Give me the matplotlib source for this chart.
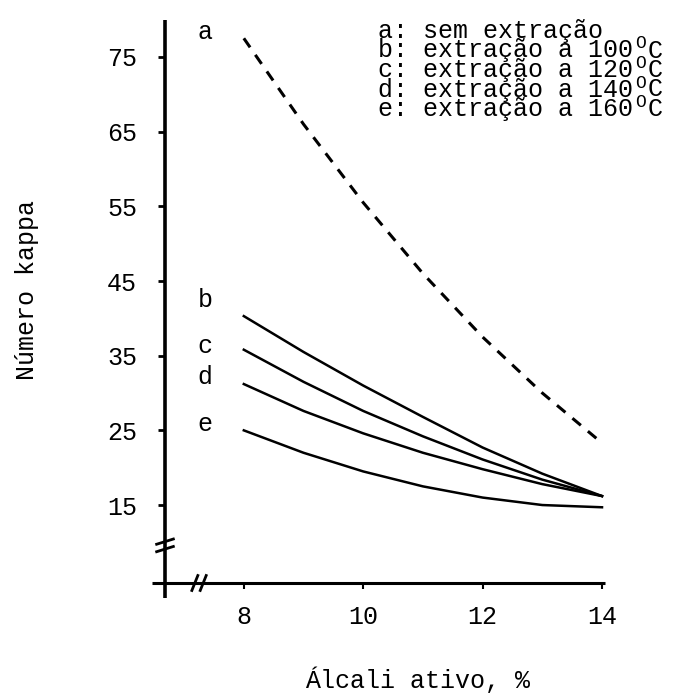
import matplotlib
matplotlib.use("Agg")
import matplotlib.pyplot as plt
import numpy as np

# valores (numero kappa vs alcali ativo)
alcali = [8, 9, 10, 11, 12, 13, 14]
kappa_a = [77.5, 66, 55.5, 46, 37.5, 30, 23.3]   # sem extracao
kappa_b = [40.3, 35.5, 31, 26.8, 22.7, 19.2, 16.2]
kappa_c = [35.8, 31.5, 27.6, 24.2, 21.1, 18.4, 16.2]
kappa_d = [31.2, 27.6, 24.6, 22.0, 19.8, 17.8, 16.2]
kappa_e = [25.0, 22.0, 19.5, 17.5, 16.0, 15.0, 14.7]

curve_labels = ["a", "b", "c", "d", "e"]
label_y = [78.3, 42.5, 36.3, 32.2, 25.8]
legend_text = ["a: sem extração", "b: extração a 100", "c: extração a 120",
               "d: extração a 140", "e: extração a 160"]

yticks = [15, 25, 35, 45, 55, 65, 75]
xticks = [8, 10, 12, 14]

font = "Liberation Mono"
plt.rcParams["font.family"] = [font, "DejaVu Sans"]

W, H = 700, 695
fig = plt.figure(figsize=(W / 100, H / 100), dpi=100)
ax = fig.add_axes([165 / W, 1 - 583 / H, 440 / W, 563 / H])
x0, x1 = 6.68, 14.05
y0, y1 = 4.56, 79.95
ax.set_xlim(x0, x1)
ax.set_ylim(y0, y1)
for s in ax.spines.values():
    s.set_visible(False)

ax.plot(alcali, kappa_a, color="black", lw=2.2, dashes=(3.6, 3.0))
for k in [kappa_b, kappa_c, kappa_d, kappa_e]:
    ax.plot(alcali, k, color="black", lw=1.8)

# eixos desenhados a mao (cruzam e passam um pouco)
ax.plot([x0, x0], [y0 - 2.0, y1], color="black", lw=2.6, clip_on=False,
        solid_capstyle="butt")
ax.plot([x0 - 0.22, x1], [y0, y0], color="black", lw=2.2, clip_on=False,
        solid_capstyle="butt")

# quebras de eixo
for dy in [-0.5, 0.5]:
    ax.plot([x0 - 0.14, x0 + 0.14], [9.6 + dy - 0.35, 9.6 + dy + 0.35],
            color="black", lw=2.0, clip_on=False)
for dx in [-0.07, 0.07]:
    ax.plot([7.25 + dx - 0.05, 7.25 + dx + 0.05], [y0 - 1.0, y0 + 1.0],
            color="black", lw=2.0, clip_on=False)

ax.set_xticks(xticks)
ax.set_yticks(yticks)
ax.set_xticklabels([str(v) for v in xticks])
ax.set_yticklabels([str(v) for v in yticks])
ax.tick_params(axis="y", direction="out", length=5, width=2, pad=15, labelsize=18)
ax.tick_params(axis="x", direction="out", length=4, width=1.5, pad=12, labelsize=18)
for t in ax.get_xticklabels() + ax.get_yticklabels():
    t.set_fontfamily(font)

for lab, yy in zip(curve_labels, label_y):
    ax.text(7.35, yy, lab, fontsize=18, family=font, ha="center", va="center")

# legenda em texto corrido (posicoes em pixels da figura)
def fx(px):
    return px / W

def fy(py):
    return 1 - py / H

cw = 0.6 * 18 * 100 / 72   # largura de um caractere (px)
for i, txt in enumerate(legend_text):
    base = 38 + i * 19.5
    fig.text(fx(378), fy(base), txt, fontsize=18, family=font,
             ha="left", va="baseline")
    if i > 0:
        xe = 378 + len(txt) * cw
        fig.text(fx(xe + 2), fy(base - 9), "O", fontsize=13, family=font,
                 ha="left", va="baseline")
        fig.text(fx(xe + 15), fy(base), "C", fontsize=18, family=font,
                 ha="left", va="baseline")

fig.text(fx(27), fy(290), "Número kappa", rotation=90, fontsize=18,
         family=font, ha="center", va="center")
fig.text(fx(418), fy(680), "Álcali ativo, %", fontsize=18,
         family=font, ha="center", va="center")

fig.savefig("out.png", dpi=100)
